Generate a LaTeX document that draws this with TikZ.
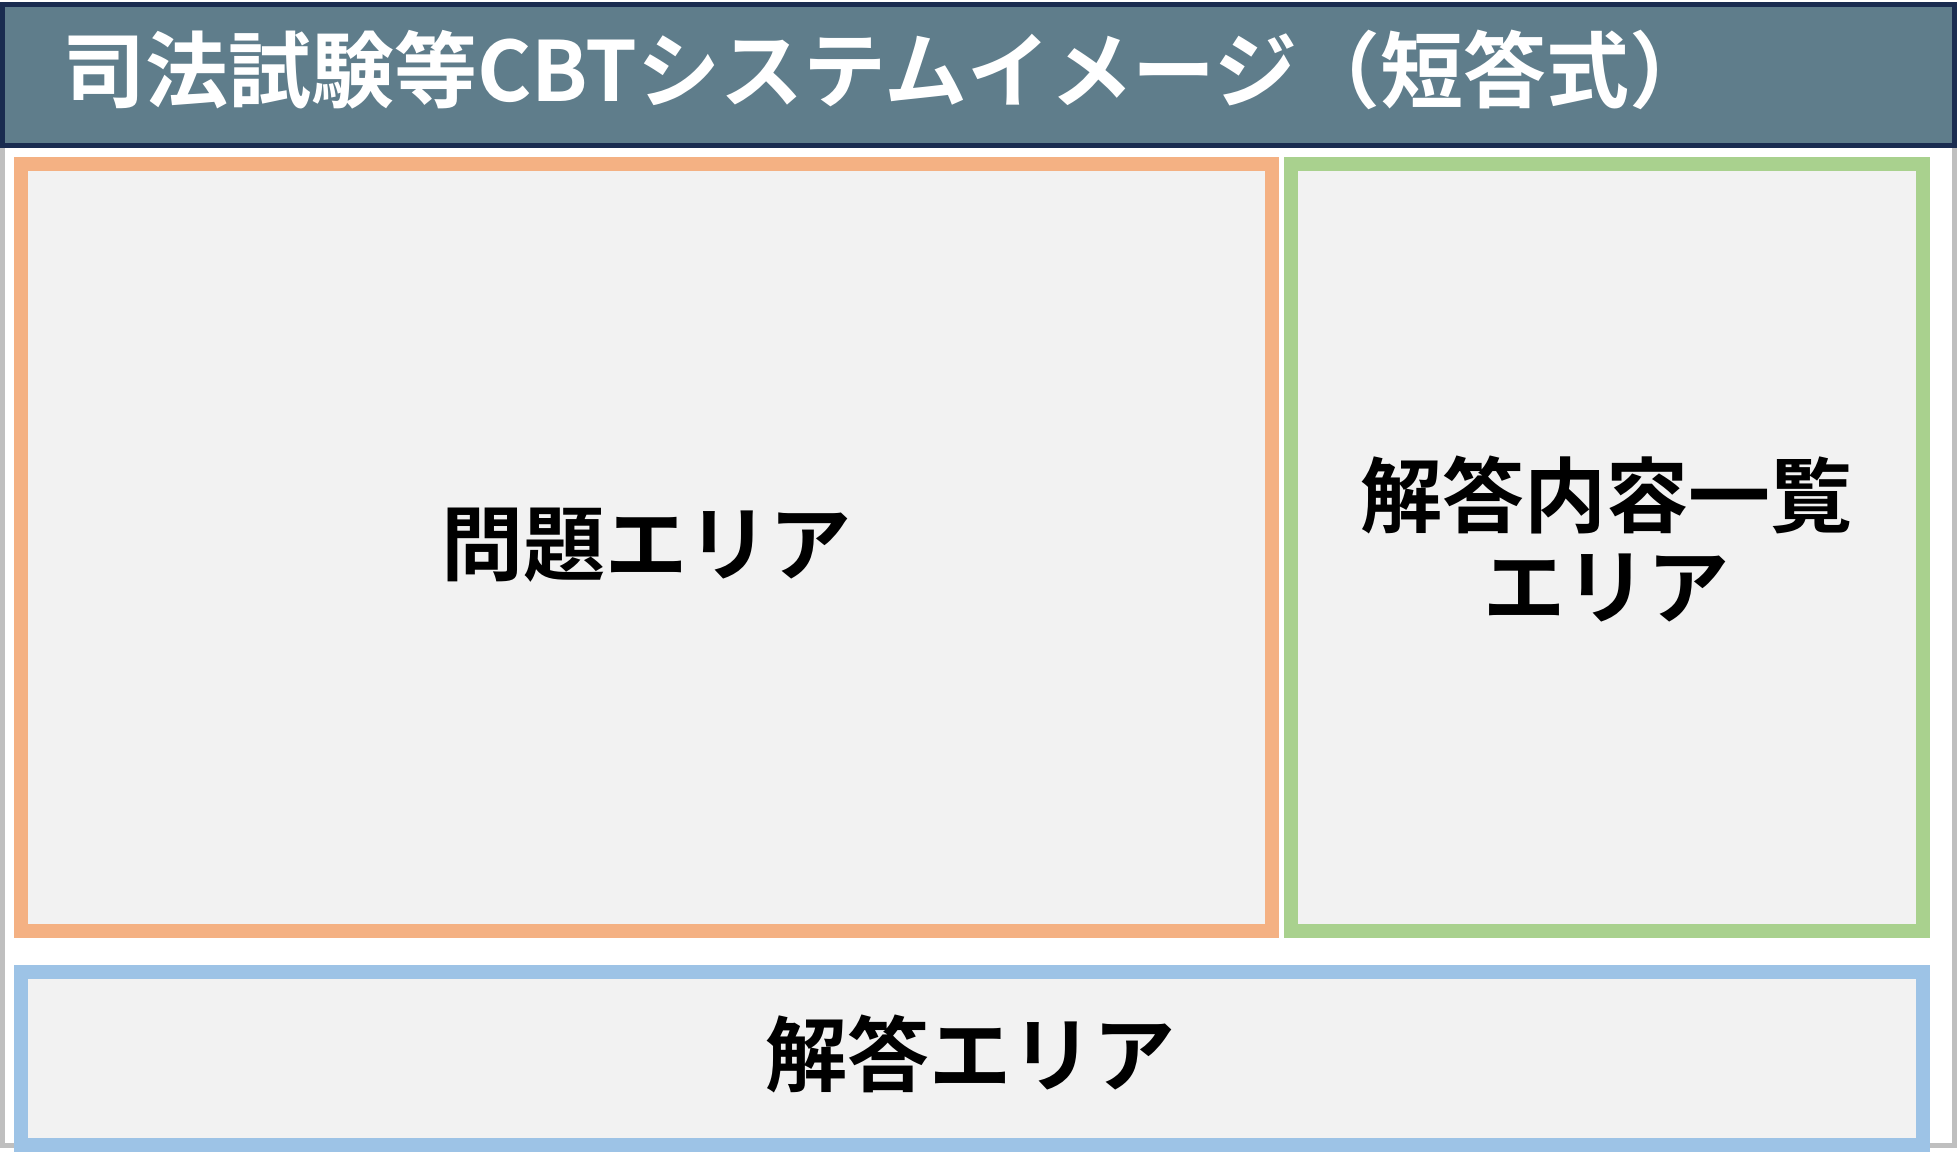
\documentclass[tikz,border=0pt]{standalone}
\usepackage{fontspec}
\newfontfamily\jpbold{Noto Sans CJK JP Bold}
\definecolor{hdrfill}{HTML}{5F7D8B}
\definecolor{hdrline}{HTML}{1A2C50}
\definecolor{frameg}{HTML}{BFBFBF}
\definecolor{boxfill}{HTML}{F2F2F2}
\definecolor{orng}{HTML}{F4B183}
\definecolor{grn}{HTML}{A9D18E}
\definecolor{blu}{HTML}{9DC3E6}
\tikzset{
  areabox/.style={draw, fill=boxfill, line width=14pt, inner sep=0pt},
  arealabel/.style={inner sep=0pt, align=center,
    font=\jpbold\fontsize{82}{91}\selectfont, text=black},
}
\begin{document}
\begin{tikzpicture}[x=1pt,y=-1pt]
\useasboundingbox (0,0) rectangle (1957,1158);
\fill[white] (0,0) rectangle (1957,1158);
% grey outer frame
\draw[frameg, line width=5pt] (2.5,140) rectangle (1954.5,1145.5);
% header
\node[draw=hdrline, fill=hdrfill, line width=5pt, inner sep=0pt,
      minimum width=1952pt, minimum height=141pt] (hdr) at (978.5,75) {};
\node[anchor=west, inner sep=0pt, text=white, font=\jpbold\fontsize{83}{92}\selectfont]
      (title) at (62,70) {司法試験等CBTシステムイメージ（短答式）};
% areas
\node[areabox, draw=orng, minimum width=1251pt, minimum height=767pt]
      (mondai) at (646.5,547.5) {};
\node[areabox, draw=grn, minimum width=632pt, minimum height=767pt]
      (ichiran) at (1607,547.5) {};
\node[areabox, draw=blu, minimum width=1902pt, minimum height=173pt]
      (kaito) at (972,1058.5) {};
\node[arealabel] (mondaiT) at (646.5,545) {問題エリア};
\node[arealabel] (ichiranT) at (1606,539) {解答内容一覧\\エリア};
\node[arealabel] (kaitoT) at (970,1054) {解答エリア};
\end{tikzpicture}
\end{document}
